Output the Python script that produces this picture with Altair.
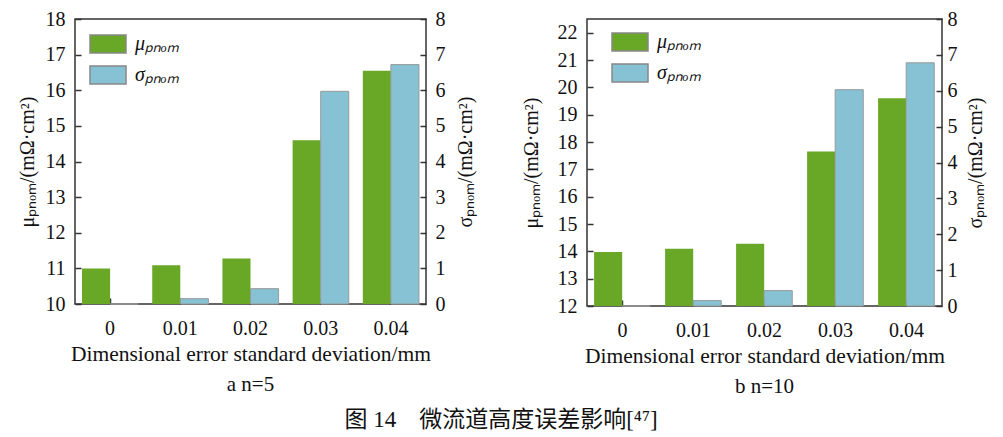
import altair as alt
import pandas as pd

cats = ["0", "0.01", "0.02", "0.03", "0.04"]
mu_n5 = [11.0, 11.09, 11.28, 14.6, 16.55]
sig_n5 = [0.0, 0.15, 0.43, 5.97, 6.72]
mu_n10 = [13.98, 14.09, 14.28, 17.65, 19.6]
sig_n10 = [0.0, 0.15, 0.43, 6.03, 6.78]

LM = "μₚₙₒₘ"
LS = "σₚₙₒₘ"
YT_MU = "μₚₙₒₘ/(mΩ·cm²)"
YT_SIG = "σₚₙₒₘ/(mΩ·cm²)"
XT = "Dimensional error standard deviation/mm"
CAPTION = "图 14　微流道高度误差影响[⁴⁷]"

FONT = "Liberation Serif"
GREEN = "#68a826"
BLUE = "#86c2d3"
RECT = "M-1,-0.5H1V0.5H-1Z"


def panel(mu, sig, mu_dom, mu_ticks, w, h, sub, lx, ly, ltp, rtp, rlp):
    dmu = pd.DataFrame({"cat": cats, "val": mu, "s": LM})
    dsg = pd.DataFrame({"cat": cats, "val": sig, "s": LS})
    x = alt.X("cat:N", sort=cats,
              scale=alt.Scale(paddingInner=0.2, paddingOuter=0.1),
              axis=alt.Axis(title=XT, labelAngle=0, domain=False, offset=-6,
                            tickSize=6, tickColor="#333", tickWidth=1.5,
                            labelPadding=14, titlePadding=5, titleFontSize=21.5))
    xo = alt.XOffset("s:N", scale=alt.Scale(domain=[LM, LS]))
    color = alt.Color("s:N", scale=alt.Scale(domain=[LM, LS], range=[GREEN, BLUE]),
                      legend=alt.Legend(orient="none", legendX=lx, legendY=ly, title=None,
                                        symbolType=RECT, symbolSize=1296,
                                        symbolStrokeColor="#888", symbolStrokeWidth=1.5,
                                        labelFont=FONT, labelFontSize=20,
                                        labelFontStyle="italic", labelColor="#111",
                                        labelOffset=8, rowPadding=-15, padding=0))
    b1 = alt.Chart(dmu).mark_bar().encode(
        x=x, xOffset=xo,
        y=alt.Y("val:Q", scale=alt.Scale(domain=mu_dom, zero=False, nice=False),
                axis=alt.Axis(title=YT_MU, orient="left", values=mu_ticks, grid=False,
                              domain=False, offset=-6, tickSize=6, tickColor="#333",
                              tickWidth=1.5, labelPadding=10, titlePadding=ltp)),
        y2=alt.datum(mu_dom[0]),
        color=color,
    )
    b2 = alt.Chart(dsg).mark_bar(stroke="#999", strokeWidth=1).encode(
        x=x, xOffset=xo,
        y=alt.Y("val:Q", scale=alt.Scale(domain=[0, 8], nice=False),
                axis=alt.Axis(title=YT_SIG, orient="right", values=list(range(9)),
                              grid=False, domain=False, offset=-6, tickSize=6,
                              tickColor="#333", tickWidth=1.5, labelPadding=rlp,
                              titlePadding=rtp, titleAngle=270)),
        y2=alt.datum(0),
        color=color,
    )
    return alt.layer(b1, b2).resolve_scale(y="independent").properties(
        width=w, height=h,
        title=alt.TitleParams(sub, orient="bottom", font=FONT, fontSize=21,
                              fontWeight="normal", color="#111", offset=9),
    )


left = panel(mu_n5, sig_n5, [10, 18], list(range(10, 19)), 351, 285,
             "a  n=5", 14, 6, 8, 30, 9)
right = panel(mu_n10, sig_n10, [12, 22.5], list(range(12, 23)), 355, 287,
              "b  n=10", 24, 4, 16, 28, 5)

chart = alt.hconcat(left, right, spacing=44).resolve_scale(color="independent").properties(
    title=alt.TitleParams(CAPTION, orient="bottom", anchor="middle",
                          font=FONT + ", Noto Sans CJK SC",
                          fontSize=23, fontWeight="normal", color="#111", offset=12),
    padding={"left": 8, "top": 0, "right": 2, "bottom": 0},
).configure_view(stroke="#333", strokeWidth=1.5).configure_axis(
    labelFont=FONT, labelFontSize=20, labelColor="#111",
    titleFont=FONT, titleFontSize=20, titleFontWeight="normal", titleColor="#111",
)

chart.save("out.html", embed_options={"renderer": "svg", "actions": False})
